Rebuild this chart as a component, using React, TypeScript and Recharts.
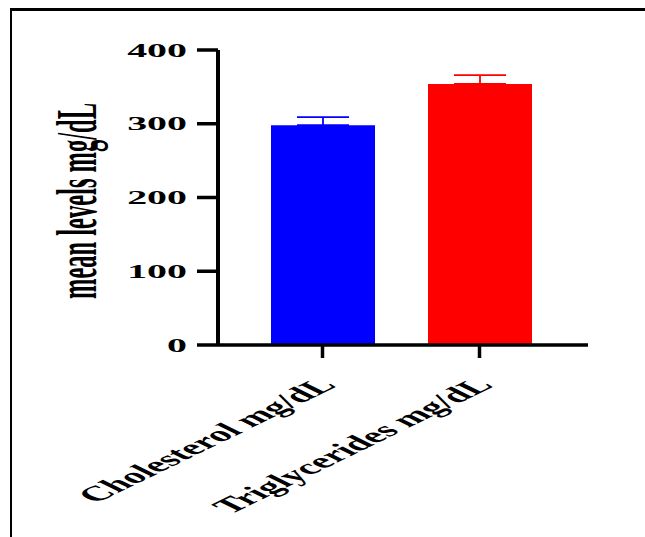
import { BarChart, Bar, XAxis, YAxis, Cell, ErrorBar } from 'recharts';

const CATEGORIES = ['Cholesterol mg/dL', 'Triglycerides mg/dL'];
const MEANS = [298, 354];
const ERRORS = [11, 12];
const COLORS = ['#0000ff', '#ff0000'];
const Y_TICKS = [0, 100, 200, 300, 400];
const Y_LABEL = 'mean levels mg/dL';

// the source figure is stretched sideways, so every text gets an x scale
const STRETCH = 2.05;
const FONT = '"Liberation Serif", "Times New Roman", serif';

// one error key per category so each cap can take its bar's colour
const chartData = CATEGORIES.map((name, i) => {
  const row: Record<string, unknown> = { name, mean: MEANS[i] };
  CATEGORIES.forEach((_, j) => {
    row[`err${j}`] = j === i ? [0, ERRORS[i]] : null;
  });
  return row;
});

function YTick({ x, y, payload }: { x?: number; y?: number; payload?: { value: number } }) {
  return (
    <text
      transform={`translate(${(x ?? 0) - 8},${y ?? 0}) scale(2.1,1)`}
      textAnchor="end"
      dy="0.35em"
      fontFamily={FONT}
      fontWeight="bold"
      fontSize={19}
      fill="#000"
    >
      {payload?.value}
    </text>
  );
}

function XTick({ x, y, payload }: { x?: number; y?: number; payload?: { value: string } }) {
  return (
    <text
      transform={`translate(${(x ?? 0) + 15},${(y ?? 0) + 26}) scale(${STRETCH},1) rotate(-45)`}
      textAnchor="end"
      fontFamily={FONT}
      fontWeight="bold"
      fontSize={21}
      fill="#000"
    >
      {payload?.value}
    </text>
  );
}

function YLabel() {
  return (
    <text
      transform="translate(96,201) scale(2.3,1) rotate(-90)"
      textAnchor="middle"
      fontFamily={FONT}
      fontWeight="bold"
      fontSize={24.5}
      fill="#000"
    >
      {Y_LABEL}
    </text>
  );
}

export default function App() {
  return (
    <div style={{ position: 'absolute', left: 0, top: 0, width: 645, height: 537, background: '#fff', overflow: 'hidden' }}>
      <div
        style={{
          position: 'absolute', left: 10, top: 8, width: 640, height: 540,
          borderLeft: '2px solid #000', borderTop: '3px solid #000',
        }}
      />
      <div style={{ position: 'absolute', left: 0, top: 0 }}>
        <BarChart
          width={645}
          height={537}
          data={chartData}
          margin={{ top: 50, right: 57, bottom: 42, left: 0 }}
        >
          <XAxis
            dataKey="name"
            height={150}
            interval={0}
            padding={{ left: 26, right: 30 }}
            axisLine={{ stroke: '#000', strokeWidth: 3.5 }}
            tickLine={{ stroke: '#000', strokeWidth: 3.5 }}
            tickSize={13}
            tick={<XTick />}
          />
          <YAxis
            width={218}
            domain={[0, 400]}
            ticks={Y_TICKS}
            allowDataOverflow
            axisLine={{ stroke: '#000', strokeWidth: 4 }}
            tickLine={{ stroke: '#000', strokeWidth: 3.5 }}
            tickSize={21}
            tick={<YTick />}
            label={{ content: <YLabel /> }}
          />
          <Bar dataKey="mean" barSize={104} isAnimationActive={false}>
            {chartData.map((_, i) => (
              <Cell key={i} fill={COLORS[i]} />
            ))}
            {CATEGORIES.map((_, i) => (
              <ErrorBar
                key={i}
                dataKey={`err${i}`}
                direction="y"
                width={26}
                stroke={COLORS[i]}
                strokeWidth={1.8}
                isAnimationActive={false}
              />
            ))}
          </Bar>
        </BarChart>
      </div>
    </div>
  );
}
